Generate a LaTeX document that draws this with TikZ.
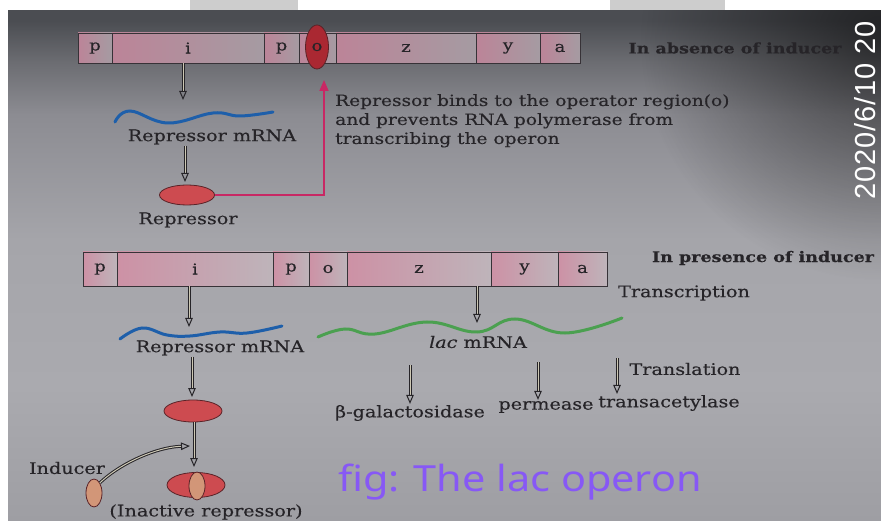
\documentclass[tikz,border=0pt]{standalone}
\usepackage{fontspec}
\setmainfont{DejaVu Serif}[FakeStretch=1.2, FakeBold=0.3]
\newfontfamily\capfont{Noto Sans}[FakeStretch=1.15]
\newfontfamily\stampfont{Liberation Sans}[LetterSpace=3]
\usetikzlibrary{arrows.meta,fadings,shapes.geometric}
\newcommand\fsz[1]{\fontsize{#1}{#1}\selectfont}
\definecolor{bgA}{RGB}{158,158,163}
\definecolor{bgB}{RGB}{170,170,175}
\definecolor{bgC}{RGB}{165,165,170}
\definecolor{bgD}{RGB}{140,140,146}
\definecolor{bgE}{RGB}{108,109,114}
\definecolor{bgF}{RGB}{75,77,82}
\definecolor{ink}{RGB}{38,36,40}
\definecolor{boxline}{RGB}{55,50,55}
\definecolor{pinkA}{RGB}{188,132,152}
\definecolor{lightA}{RGB}{165,155,162}
\definecolor{pinkB}{RGB}{205,145,165}
\definecolor{lightB}{RGB}{190,180,186}
\definecolor{repred}{RGB}{205,75,80}
\definecolor{redline}{RGB}{90,35,40}
\definecolor{opred}{RGB}{170,40,50}
\definecolor{indorange}{RGB}{210,150,120}
\definecolor{linkpink}{RGB}{200,40,100}
\definecolor{mrnablue}{RGB}{30,95,170}
\definecolor{mrnagreen}{RGB}{75,160,80}
\definecolor{capviolet}{RGB}{135,88,245}
\definecolor{arrowfill}{RGB}{205,200,180}
\definecolor{stripgray}{RGB}{205,205,205}
\pgfdeclareverticalshading{photobg}{100bp}{color(0bp)=(bgA); color(25bp)=(bgA); color(38bp)=(bgB); color(52bp)=(bgC); color(64bp)=(bgD); color(69bp)=(bgE); color(73bp)=(bgF); color(100bp)=(bgF)}
\tikzfading[name=darkcorner, inner color=transparent!0, outer color=transparent!100]
\tikzset{
  gbA/.style={draw=boxline, line width=0.8pt, minimum height=30, inner sep=0, left color=pinkA, right color=lightA, text=ink, font=\fsz{15}},
  gbB/.style={gbA, minimum height=34, left color=pinkB, right color=lightB},
  lbl/.style={text=ink, font=\fsz{16}, inner sep=1pt},
  boldlbl/.style={text=ink, font=\fsz{14.6}\bfseries, inner sep=1pt},
  redell/.style={ellipse, draw=redline, line width=0.8pt, fill=repred, inner sep=0},
  indell/.style={ellipse, draw=redline, line width=0.8pt, fill=indorange, inner sep=0, minimum width=16, minimum height=28},
  dblarrow/.style={draw=ink, line width=1pt, double=arrowfill, double distance=1pt, -{Triangle[open, length=9pt, width=7.5pt, line width=1pt]}},
  linkarrow/.style={draw=linkpink, line width=1.6pt, -{Triangle[length=11pt, width=9pt]}},
  mrna/.style={line width=3pt, line cap=round}
}
\begin{document}
\begin{tikzpicture}[x=1pt,y=-1pt]
\useasboundingbox (0,0) rectangle (881,521);
% photographed page background
\shade[shading=photobg] (0,0) rectangle (881,521);
\fill[black, opacity=0.55, path fading=darkcorner] (881,40) circle (240);

% ---------- In absence of inducer ----------
\node[gbA, minimum width=34] (tp1) at (95,48) {p};
\node[gbA, minimum width=152] (ti1) at (188,48) {i};
\node[gbA, minimum width=35] (tp2) at (281.5,48) {p};
\node[gbA, minimum width=37] (to1) at (317.5,48) {};
\node[gbA, minimum width=140] (tz) at (406,48) {z};
\node[gbA, minimum width=64] (ty) at (508,48) {y};
\node[gbA, minimum width=40] (ta) at (560,48) {a};
\node[redell, fill=opred, minimum width=23, minimum height=44, text=ink, font=\fsz{15}] (op) at (317,47) {o};
\node[boldlbl] (absent) at (735,48) {In absence of inducer};

\coordinate (t1) at (183,100);
\draw[dblarrow] (ti1.south -| t1) -- (t1);
\draw[mrna, mrnablue] plot[smooth, tension=0.7] coordinates {(115,122) (130,111) (168,123) (213,113) (240,116) (273,112)};
\node[lbl] (rm1) at (212,137) {Repressor mRNA};
\coordinate (t2) at (185,182);
\draw[dblarrow] (rm1.south -| t2) -- (t2);
\node[redell, minimum width=55, minimum height=20] (rep1) at (187,195) {};
\node[lbl] (replbl) at (188,220) {Repressor};
\coordinate (optip) at (324,80);
\draw[linkarrow] (rep1.east) -| (optip);
\node[lbl, anchor=north west, align=left, font=\fontsize{15.5}{19}\selectfont] (para) at (334,93) {Repressor binds to the operator region(o)\\and prevents RNA polymerase from\\transcribing the operon};

% ---------- In presence of inducer ----------
\node[gbB, minimum width=34] (bp1) at (100,269) {p};
\node[gbB, minimum width=156] (bi1) at (195,269) {i};
\node[gbB, minimum width=36] (bp2) at (291,269) {p};
\node[gbB, minimum width=38] (bo) at (328,269) {o};
\node[gbB, minimum width=144] (bz) at (419,269) {z};
\node[gbB, minimum width=67] (by) at (524.5,269) {y};
\node[gbB, minimum width=49] (ba) at (582.5,269) {a};
\node[boldlbl] (present) at (763,258) {In presence of inducer};
\node[lbl] (transc) at (684,293) {Transcription};

\coordinate (t3) at (189,327);
\draw[dblarrow] (bi1.south -| t3) -- (t3);
\coordinate (t4) at (477,323);
\draw[dblarrow] (bz.south -| t4) -- (t4);

\draw[mrna, mrnablue] plot[smooth, tension=0.7] coordinates {(120,339) (142,328) (167,335) (190,336) (220,332) (247,333) (282,326)};
\node[lbl] (rm2) at (220,348) {Repressor mRNA};
\draw[mrna, mrnagreen] plot[smooth, tension=0.7] coordinates {(318,337) (345,329) (375,334) (427,322) (477,332) (515,319) (565,333) (622,318)};
\node[lbl] (lacm) at (478,342) {\textit{lac} mRNA};

\coordinate (t5) at (192,397);
\draw[dblarrow] (rm2.south -| t5) -- (t5);
\node[redell, minimum width=58, minimum height=22] (rep2) at (193,411) {};
\coordinate (t6) at (194,467);
\draw[dblarrow] (rep2.south -| t6) -- (t6);

\node[redell, minimum width=58, minimum height=25] (inact) at (196,485) {};
\node[indell] (bound) at (197,486) {};
\node[lbl] (inactlbl) at (206,512) {(Inactive repressor)};

\node[indell] (ind) at (94,493) {};
\node[lbl] (indlbl) at (67,468) {Inducer};
\coordinate (indtip) at (190,446);
\draw[dblarrow] (ind.60) .. controls (122,462) and (158,447) .. (indtip);

\coordinate (s1) at (410,365);
\coordinate (s2) at (538,362);
\coordinate (s3) at (617,358);
\node[lbl] (beta) at (410,413) {β-galactosidase};
\node[lbl] (perm) at (546,407) {permease};
\node[lbl] (trans) at (669,403) {transacetylase};
\node[lbl] (transl) at (685,369) {Translation};
\draw[dblarrow] (s1) -- (beta.north -| s1);
\draw[dblarrow] (s2) -- (perm.north -| s2);
\draw[dblarrow] (s3) -- (trans.north -| s3);

\node[text=capviolet, font=\capfont\fsz{36}, inner sep=0] (caption) at (520,482) {fig: The lac operon};

% photo overlays
\node[rotate=90, anchor=base west, text=white, font=\stampfont\fsz{29}, inner sep=0] (stamp) at (875,200) {2020/6/10 20};
\fill[white] (0,0) rectangle (881,10);
\fill[white] (0,0) rectangle (8,521);
\fill[stripgray] (190,0) rectangle (298,10);
\fill[stripgray] (610,0) rectangle (725,10);
\end{tikzpicture}
\end{document}
